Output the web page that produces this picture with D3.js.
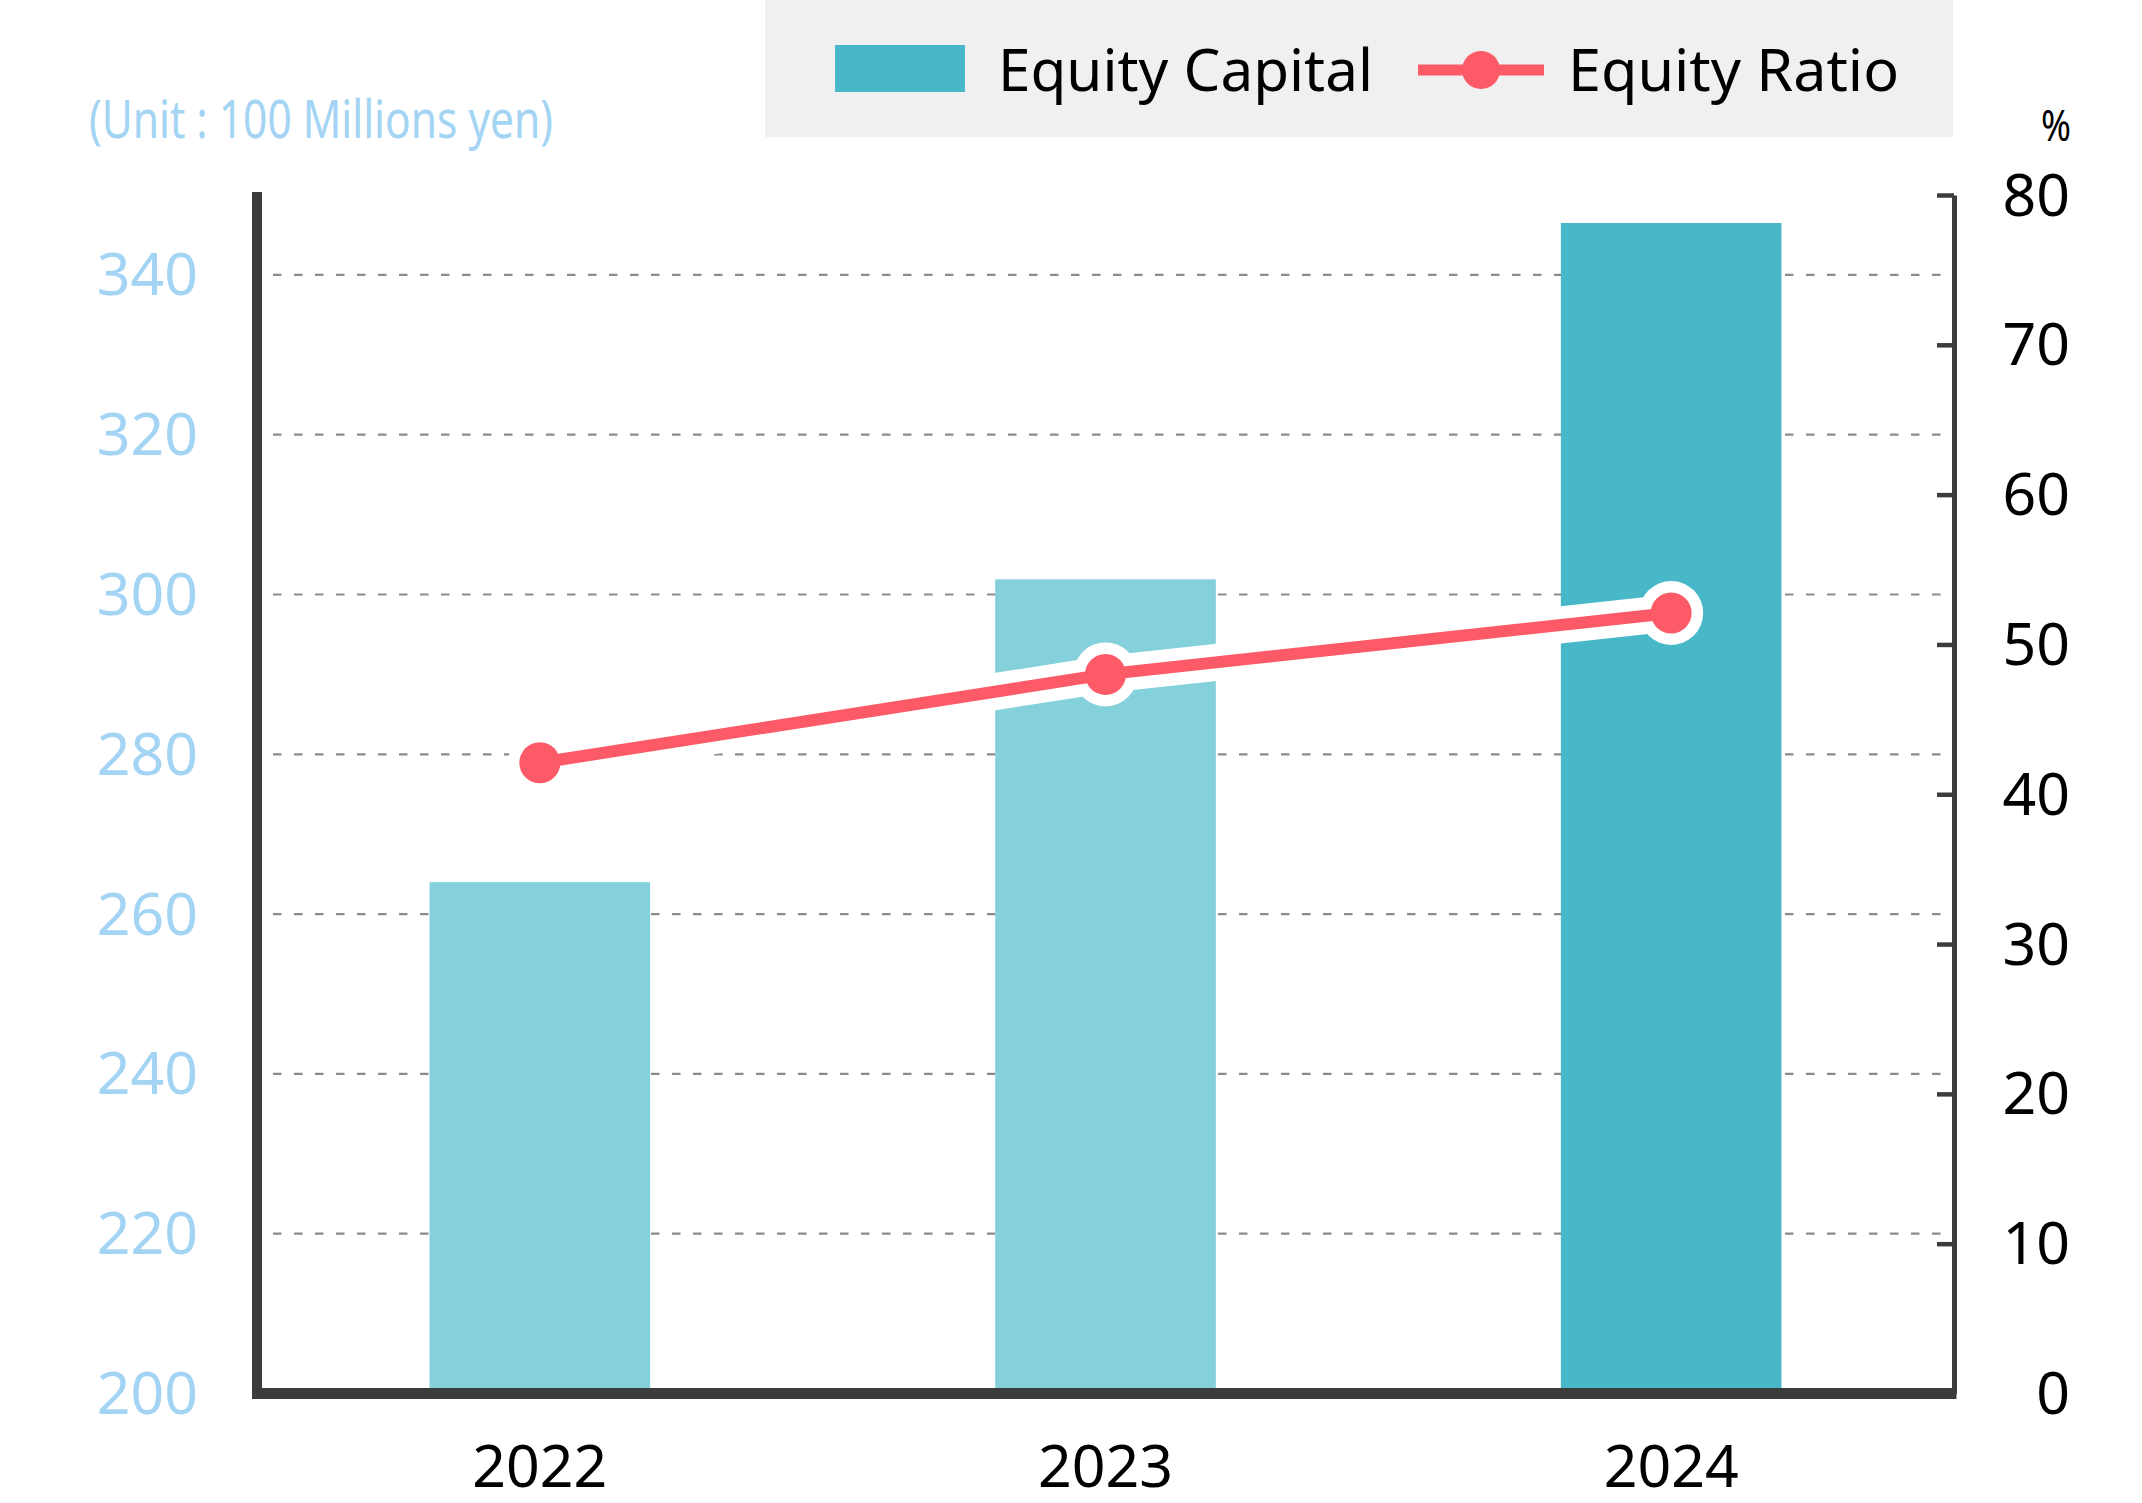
<!DOCTYPE html>
<html>
<head>
<meta charset="utf-8">
<script src="https://cdn.jsdelivr.net/npm/d3@7"></script>
<style>
  html, body { margin: 0; padding: 0; background: #ffffff; }
  svg { display: block; }
  text { font-family: "Noto Sans", "DejaVu Sans", sans-serif; }
</style>
</head>
<body>
<svg id="chart" width="2142" height="1503"></svg>
<script>
// ---- data ----
const years = ["2022", "2023", "2024"];
const equityCapital = [264.0, 301.9, 346.5];   // 100 millions yen
const equityRatio = [42.1, 48.0, 52.1];        // %
const leftTicks = [200, 220, 240, 260, 280, 300, 320, 340];
const gridTicks = [220, 240, 260, 280, 300, 320, 340];
const rightTicks = [0, 10, 20, 30, 40, 50, 60, 70, 80];
const barColors = ["#84d1dc", "#84d1dc", "#48b8c8"];
const seriesNames = ["Equity Capital", "Equity Ratio"];
const unitLabel = "(Unit : 100 Millions yen)";
const pctLabel = "%";

// ---- layout ----
const L = 257, R = 1954, T = 195, B = 1393.5;
const svg = d3.select("#chart");

const x = d3.scaleBand().domain(years).range([L, R]).paddingInner(0.61).paddingOuter(0.305);
const yL = d3.scaleLinear().domain([200, 350]).range([B, T]);
const yR = d3.scaleLinear().domain([0, 80]).range([B, T]);

const red = "#fc5a66";

// gridlines
svg.append("g").selectAll("line").data(gridTicks).join("line")
  .attr("x1", L + 16).attr("x2", R)
  .attr("y1", d => yL(d)).attr("y2", d => yL(d))
  .attr("stroke", "#8c8c8c").attr("stroke-width", 2.2)
  .attr("stroke-dasharray", "8.5,12.5");

// bars
svg.append("g").selectAll("rect").data(years).join("rect")
  .attr("x", d => x(d))
  .attr("width", x.bandwidth())
  .attr("y", (d, i) => yL(equityCapital[i]))
  .attr("height", (d, i) => yL(200) - yL(equityCapital[i]))
  .attr("fill", (d, i) => barColors[i]);

// line with white halo
const pts = years.map((d, i) => [x(d) + x.bandwidth() / 2, yR(equityRatio[i])]);
const lineGen = d3.line();
svg.append("path").attr("d", lineGen(pts))
  .attr("fill", "none").attr("stroke", "#ffffff").attr("stroke-width", 37)
  .attr("stroke-linejoin", "round");
svg.append("g").selectAll("circle").data(pts).join("circle")
  .attr("cx", d => d[0]).attr("cy", d => d[1]).attr("r", 32).attr("fill", "#ffffff");
svg.append("path").attr("d", lineGen(pts))
  .attr("fill", "none").attr("stroke", red).attr("stroke-width", 12)
  .attr("stroke-linejoin", "round");
svg.append("g").selectAll("circle").data(pts).join("circle")
  .attr("cx", d => d[0]).attr("cy", d => d[1]).attr("r", 20.5).attr("fill", red);

// left axis (labels)
const gLeft = svg.append("g").attr("transform", `translate(${L},0)`)
  .call(d3.axisLeft(yL).tickValues(leftTicks).tickSize(0).tickPadding(59).tickFormat(d3.format("d")));
gLeft.select(".domain").remove();
gLeft.selectAll("text").attr("fill", "#a3d4f4").attr("font-size", 59)
  .attr("font-family", "Noto Sans").attr("dy", "0.34em");

// right axis
const gRight = svg.append("g").attr("transform", `translate(${R},0)`)
  .call(d3.axisRight(yR).tickValues(rightTicks).tickSizeInner(-17).tickSizeOuter(0).tickFormat(d3.format("d")));
gRight.select(".domain").attr("stroke", "#3c3c3c").attr("stroke-width", 5);
gRight.selectAll(".tick line").attr("stroke", "#3c3c3c").attr("stroke-width", 4.5);
gRight.selectAll("text").attr("fill", "#000000").attr("font-size", 59)
  .attr("font-family", "Noto Sans").attr("text-anchor", "end").attr("x", 116).attr("dy", "0.34em");

// left axis line and bottom axis line
svg.append("line").attr("x1", L).attr("x2", L).attr("y1", T - 3).attr("y2", B + 5.5)
  .attr("stroke", "#3c3c3c").attr("stroke-width", 10);
svg.append("line").attr("x1", L - 5).attr("x2", R + 2.5).attr("y1", B).attr("y2", B)
  .attr("stroke", "#3c3c3c").attr("stroke-width", 11);

// x labels
svg.append("g").selectAll("text").data(years).join("text")
  .attr("x", d => x(d) + x.bandwidth() / 2).attr("y", 1487)
  .attr("text-anchor", "middle").attr("font-size", 59).attr("fill", "#000000")
  .text(d => d);

// unit label
svg.append("text").attr("x", 89).attr("y", 138)
  .attr("font-size", 53).attr("fill", "#a3d4f4")
  .attr("textLength", 464).attr("lengthAdjust", "spacingAndGlyphs")
  .text(unitLabel);

// percent label
svg.append("text").attr("x", 2071).attr("y", 141)
  .attr("text-anchor", "end").attr("font-size", 44).attr("fill", "#000000")
  .attr("textLength", 30).attr("lengthAdjust", "spacingAndGlyphs")
  .text(pctLabel);

// legend
const lg = svg.append("g");
lg.append("rect").attr("x", 765).attr("y", 0).attr("width", 1188).attr("height", 137).attr("fill", "#f0f0f0");
lg.append("rect").attr("x", 835).attr("y", 45).attr("width", 130).attr("height", 47).attr("fill", barColors[2]);
lg.append("text").attr("x", 998).attr("y", 91).attr("font-size", 59).attr("fill", "#000000")
  .attr("textLength", 375).attr("lengthAdjust", "spacingAndGlyphs").text(seriesNames[0]);
lg.append("line").attr("x1", 1418).attr("x2", 1544).attr("y1", 70).attr("y2", 70)
  .attr("stroke", red).attr("stroke-width", 11);
lg.append("circle").attr("cx", 1481).attr("cy", 70).attr("r", 19).attr("fill", red);
lg.append("text").attr("x", 1568).attr("y", 91).attr("font-size", 59).attr("fill", "#000000")
  .attr("textLength", 331).attr("lengthAdjust", "spacingAndGlyphs").text(seriesNames[1]);
</script>
</body>
</html>
